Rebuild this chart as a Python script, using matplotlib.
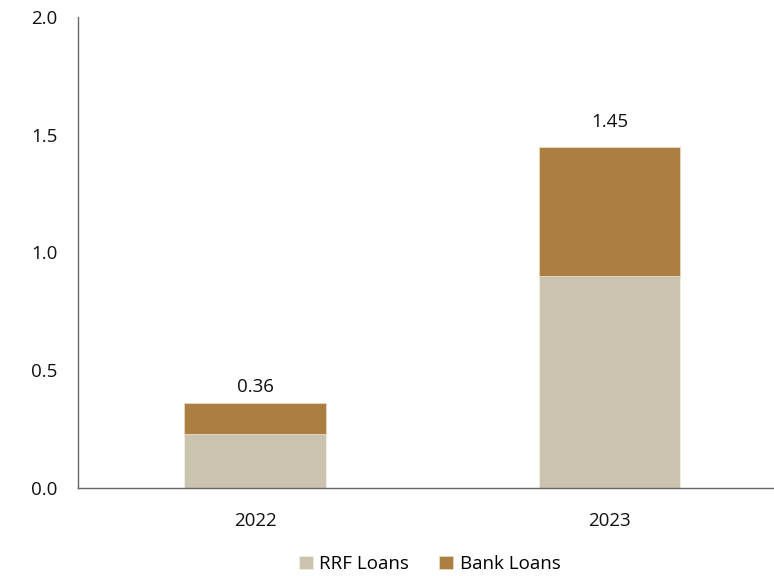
import matplotlib
matplotlib.use("Agg")
import matplotlib.pyplot as plt
import numpy as np

years = ["2022", "2023"]
rrf_loans = [0.23, 0.90]
bank_loans = [0.13, 0.55]
totals = [0.36, 1.45]

plt.rcParams["font.family"] = ["Open Sans", "DejaVu Sans"]

fig = plt.figure(figsize=(7.74, 5.76), dpi=100)
ax = fig.add_axes([0.1008, 0.1528, 0.8992, 0.8177])

x = np.arange(len(years))
w = 0.4
ax.bar(x, rrf_loans, w, color="#C9C3B0", edgecolor="#F2EEE4", linewidth=0.6, label="RRF Loans")
ax.bar(x, bank_loans, w, bottom=rrf_loans, color="#AB7E42", edgecolor="#E8D9BF", linewidth=0.6, label="Bank Loans")

pads = [5, 11]
for xi, t, p in zip(x, totals, pads):
    ax.annotate(f"{t:.2f}", (xi, t), xytext=(0, p), textcoords="offset points",
                ha="center", va="bottom", fontsize=13.5, color="#111111")

ax.set_xlim(-0.5, 1.464)
ax.set_ylim(0, 2.0)
ax.set_yticks([0, 0.5, 1.0, 1.5, 2.0])
ax.set_yticklabels([f"{v:.1f}" for v in [0, 0.5, 1.0, 1.5, 2.0]])
ax.set_xticks(x)
ax.set_xticklabels(years)
ax.tick_params(axis="both", length=0, labelsize=13.5, colors="#111111")
ax.tick_params(axis="y", pad=15)
ax.tick_params(axis="x", pad=17)
for s in ["top", "right"]:
    ax.spines[s].set_visible(False)
for s in ["left", "bottom"]:
    ax.spines[s].set_color("#666666")
    ax.spines[s].set_linewidth(1.0)

fig.legend(loc="lower center", bbox_to_anchor=(0.555, -0.024), ncol=2, frameon=False,
           fontsize=13.5, handlelength=0.75, handleheight=0.75, handletextpad=0.35,
           columnspacing=1.6)

fig.savefig("out.png", dpi=100)
